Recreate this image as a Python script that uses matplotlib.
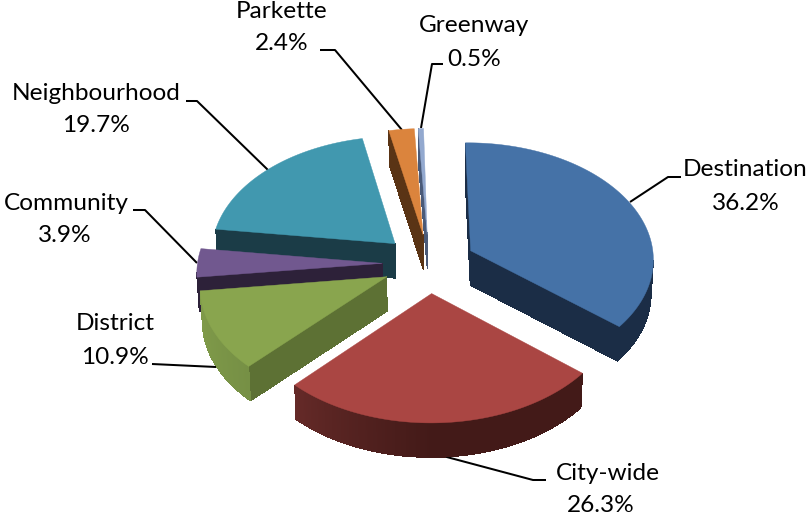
import numpy as np
import matplotlib
matplotlib.use("Agg")
import matplotlib.pyplot as plt
from matplotlib.colors import to_rgb
from matplotlib.patches import Polygon

categories = ["Destination", "City-wide", "District", "Community",
              "Neighbourhood", "Parkette", "Greenway"]
shares = [36.2, 26.3, 10.9, 3.9, 19.7, 2.4, 0.5]

top_colors = ["#4572A7", "#AA4643", "#89A54E", "#71588F", "#4198AF", "#DB843D", "#93A9CF"]
cut_colors = ["#1B2D46", "#4A1D1B", "#5D7134", "#2D2139", "#1B3C47", "#5A3415", "#4A5A78"]
rim_left = ["#1B2D46", "#7F3634", "#7F9A49", "#2D2139", "#1B3C47", "#5A3415", "#6F82A6"]
rim_front = ["#1B2D46", "#431A18", "#6A8240", "#2D2139", "#1B3C47", "#5A3415", "#4A5A78"]

# Perspective mapping from the pie's plane to figure pixels, and the explode distance
H = [186.56169, 16.73621, 428.9327, -5.66086, -99.17376, 263.51541, 0.00655, 0.06564]
EXPLODE = 0.25348
START_ANGLE = 2.64968
DEPTH = 34.5
SHRINK = 0.99
FONT_SIZE = 17.6

# name position, value position, leader path
label_layout = {
    "Destination": ((745, 169), (746, 203), [(630, 202), (668, 177), (681, 177)]),
    "City-wide": ((608, 474), (601, 506), [(443, 456), (533, 480), (546, 480)]),
    "District": ((115, 323), (115, 358), [(152, 364), (216, 367)]),
    "Community": ((66, 204), (65, 236), [(133, 210), (145, 210), (197, 263)]),
    "Neighbourhood": ((96, 93), (96, 126), [(186, 101), (197, 101), (268, 170)]),
    "Parkette": ((282, 11), (282, 43), [(320, 50), (335, 50), (402, 130)]),
    "Greenway": ((474, 26), (474, 59), [(443, 64), (432, 64), (421, 128)]),
}


def project(x, y):
    w = H[6] * x + H[7] * y + 1
    return (H[0] * x + H[1] * y + H[2]) / w, (H[3] * x + H[4] * y + H[5]) / w


def wedge_outline(a0, a1):
    mid = np.radians((a0 + a1) / 2 + START_ANGLE)
    ox, oy = EXPLODE * np.sin(mid), EXPLODE * np.cos(mid)
    th = np.radians(np.linspace(a0, a1, max(int(a1 - a0) * 2, 4)) + START_ANGLE)
    xs = np.r_[ox, ox + np.sin(th)]
    ys = np.r_[oy, oy + np.cos(th)]
    return np.column_stack(project(xs, ys))


def lerp(c0, c1, t):
    a, b = np.array(to_rgb(c0)), np.array(to_rgb(c1))
    return tuple(a + (b - a) * t)


def lowered(point):
    return np.array([430 + (point[0] - 430) * SHRINK, point[1] + DEPTH])


fig = plt.figure(figsize=(8.09, 5.15), dpi=100)
ax = fig.add_axes([0, 0, 1, 1])
ax.set_xlim(0, 809)
ax.set_ylim(515, 0)
ax.axis("off")

for name in categories:
    _, _, path = label_layout[name]
    ax.plot(*zip(*path), color="black", lw=1.45, solid_capstyle="butt", zorder=1)

edges = np.r_[0, np.cumsum(shares)] / 100 * 360
# Slices are painted back to front
paint_order = [5, 6, 4, 3, 2, 0, 1]
for z, i in enumerate(paint_order):
    pts = wedge_outline(edges[i], edges[i + 1])
    n = len(pts)
    centroid = pts.mean(axis=0)
    for k in range(n):
        p, q = pts[k], pts[(k + 1) % n]
        d = q - p
        normal = np.array([d[1], -d[0]]) / (np.hypot(*d) + 1e-9)
        if normal @ ((p + q) / 2 - centroid) < 0:
            normal = -normal
        if normal[1] <= 0:
            continue
        if k == 0 or k == n - 1:
            col = cut_colors[i]
        else:
            col = lerp(rim_left[i], rim_front[i], np.clip(normal[0] + 1, 0, 1))
        # Hard-edged quads leave no seams between neighbouring rim steps
        quad = [p, q, lowered(q), lowered(p)]
        ax.add_patch(Polygon(quad, closed=True, fc=col, ec="none", lw=0, antialiased=False,
                             zorder=10 + 2 * z))
    ax.add_patch(Polygon(pts, closed=True, fc=top_colors[i], ec=top_colors[i], lw=0.3,
                         zorder=11 + 2 * z))

for name, share in zip(categories, shares):
    name_xy, value_xy, _ = label_layout[name]
    ax.text(*name_xy, name, ha="center", va="center", family="Lato", fontsize=FONT_SIZE,
            color="black", zorder=40)
    ax.text(*value_xy, f"{share:.1f}%", ha="center", va="center", family="Lato",
            fontsize=FONT_SIZE, color="black", zorder=40)

fig.savefig("out.png", dpi=100, facecolor="white")
